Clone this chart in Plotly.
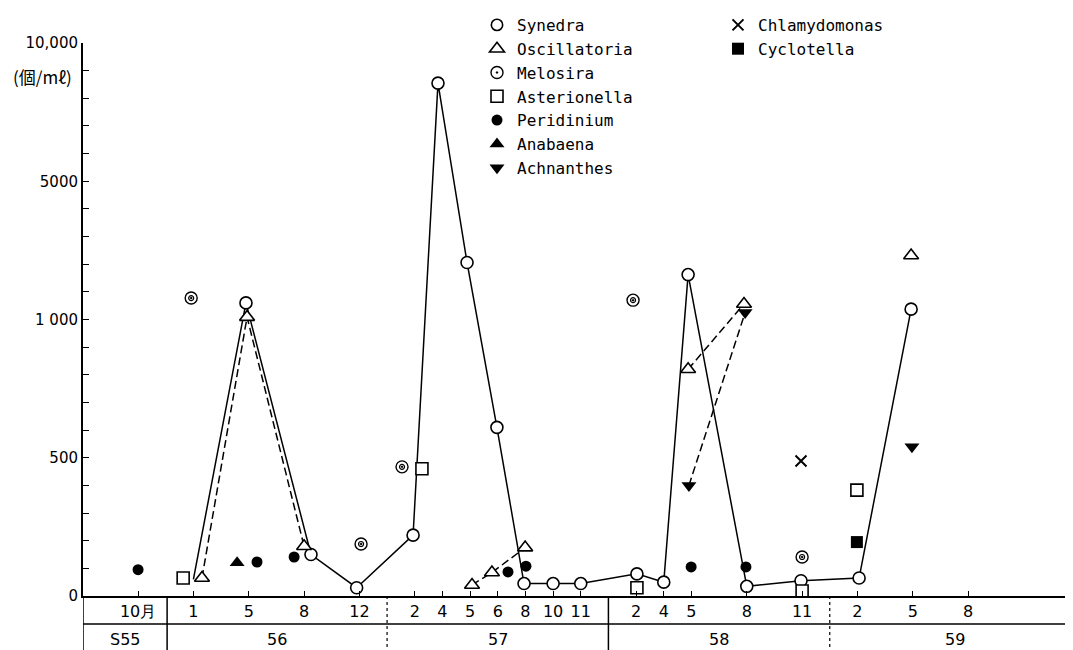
import plotly.graph_objects as go

# ---------------- data ----------------
slot_pos = [0, 2, 4, 6, 8, 10, 11, 12, 13, 14, 15, 16, 18, 19, 20, 22, 24, 26, 28, 30]
month_labels = ["10月", "1", "5", "8", "12", "2", "4", "5", "6", "8", "10", "11",
                "2", "4", "5", "8", "11", "2", "5", "8"]
year_labels = ["S55", "56", "57", "58", "59"]
year_edges = [-1.99, 1.05, 9.0, 17.0, 25.0, 34.08]
year_edge_solid = [True, True, False, True, False]

y_breaks = [0, 500, 1000, 5000, 10000]
y_tick_text = ["0", "500", "1 000", "5000", "10,000"]

syn_x = [2.0, 3.9, 6.25, 7.9, 9.94, 10.84, 11.89, 12.97, 13.95, 15.0, 16.0,
         18.03, 19.0, 19.88, 22.0, 23.96, 26.06, 27.94]
syn_y = [60, 1480, 150, 30, 220, 8550, 2650, 610, 45, 45, 45,
         80, 50, 2300, 35, 55, 65, 1300]

osc_x = [2.31, 3.94, 6.0, 12.07, 12.79, 13.99, 19.88, 21.9, 27.94]
osc_y = [65, 1070, 180, 40, 85, 175, 820, 1450, 2850]
osc_run = [1, 1, 1, 2, 2, 2, 3, 3, 4]

mel_x = [1.92, 8.06, 9.54, 17.89, 24.0]
mel_y = [1620, 188, 467, 1560, 141]

ast_x = [1.63, 10.26, 18.03, 24.0, 25.98]
ast_y = [65, 460, 30, 18, 383]

per_x = [0, 4.3, 5.64, 13.37, 14.02, 19.99, 21.97]
per_y = [95, 123, 141, 87, 108, 105, 105]

ana_x = [3.58]
ana_y = [120]

ach_x = [19.91, 21.94, 27.97]
ach_y = [400, 1200, 540]
ach_run = [1, 1, 2]

chl_x = [23.96]
chl_y = [488]

cyc_x = [25.98]
cyc_y = [195]


# ---------------- helpers ----------------
def scale(v):
    """Broken (piecewise linear) count scale: each interval between breaks = 1 unit."""
    for i in range(len(y_breaks) - 1):
        lo, hi = y_breaks[i], y_breaks[i + 1]
        if v <= hi or i == len(y_breaks) - 2:
            return i + (v - lo) / (hi - lo)


def sc(vals):
    return [scale(v) for v in vals]


def runs_with_gaps(xs, ys, runs):
    ox, oy = [], []
    prev = None
    for x, y, r in zip(xs, ys, runs):
        if prev is not None and r != prev:
            ox.append(None)
            oy.append(None)
        ox.append(x)
        oy.append(scale(y))
        prev = r
    return ox, oy


FONT = "DejaVu Sans"
LFONT = "DejaVu Sans Mono"
BLACK = "black"
fig = go.Figure()

# ---- lines (below markers) ----
fig.add_trace(go.Scatter(x=syn_x, y=sc(syn_y), mode="lines",
                         line=dict(color=BLACK, width=1.5), showlegend=False,
                         hoverinfo="skip"))
lx, ly = runs_with_gaps(osc_x, osc_y, osc_run)
fig.add_trace(go.Scatter(x=lx, y=ly, mode="lines",
                         line=dict(color=BLACK, width=1.5, dash="8px,4px"),
                         showlegend=False, hoverinfo="skip"))
lx, ly = runs_with_gaps(ach_x, ach_y, ach_run)
fig.add_trace(go.Scatter(x=lx, y=ly, mode="lines",
                         line=dict(color=BLACK, width=1.5, dash="8px,4px"),
                         showlegend=False, hoverinfo="skip"))

open_line = dict(color=BLACK, width=1.6)

syn_sizes = [0] + [12] * (len(syn_x) - 1)

series = [
    ("Synedra", syn_x, syn_y, dict(symbol="circle", size=syn_sizes, color="white", opacity=1, line=open_line), "legend"),
    ("Oscillatoria", osc_x, osc_y, dict(symbol="triangle-up", size=13, color="white", opacity=1, line=open_line), "legend"),
    ("Melosira", mel_x, mel_y, dict(symbol="circle-open-dot", size=12, color=BLACK, line=dict(width=1.4)), "legend"),
    ("Asterionella", ast_x, ast_y, dict(symbol="square", size=12, color="white", opacity=1, line=open_line), "legend"),
    ("Peridinium", per_x, per_y, dict(symbol="circle", size=11, color=BLACK, line=dict(width=0)), "legend"),
    ("Anabaena", ana_x, ana_y, dict(symbol="triangle-up", size=13, color=BLACK, line=dict(width=0)), "legend"),
    ("Achnanthes", ach_x, ach_y, dict(symbol="triangle-down", size=13, color=BLACK, line=dict(width=0)), "legend"),
    ("Chlamydomonas", chl_x, chl_y, dict(symbol="x-thin-open", size=11, color=BLACK, line=dict(width=2, color=BLACK)), "legend2"),
    ("Cyclotella", cyc_x, cyc_y, dict(symbol="square", size=12, color=BLACK, line=dict(width=0)), "legend2"),
]
for name, xs, ys, mk, lg in series:
    fig.add_trace(go.Scatter(x=xs, y=sc(ys), mode="markers", name=name,
                             marker=mk, legend=lg, cliponaxis=False))

# inner ring of the Melosira double circle
fig.add_trace(go.Scatter(x=mel_x, y=sc(mel_y), mode="markers", showlegend=False,
                         marker=dict(symbol="circle-open", size=5, color=BLACK,
                                     line=dict(width=1.2)), hoverinfo="skip"))

# ---------------- bottom table (months / years) ----------------
row_y = -0.0506   # line separating month row from year row
bot_y = -0.2
shapes = [dict(type="line", xref="x", yref="paper", x0=year_edges[0], x1=year_edges[-1],
               y0=row_y, y1=row_y, line=dict(color=BLACK, width=1.5))]
for e, solid in zip(year_edges[:-1], year_edge_solid):
    shapes.append(dict(type="line", xref="x", yref="paper", x0=e, x1=e, y0=0, y1=bot_y,
                       line=dict(color=BLACK, width=1.5 if solid else 1.2,
                                 dash="solid" if solid else "dot")))

annotations = []
for i, lab in enumerate(year_labels):
    cx = (year_edges[i] + year_edges[i + 1]) / 2
    annotations.append(dict(x=cx, y=-0.078, xref="x", yref="paper", text=lab,
                            showarrow=False, font=dict(family=FONT, size=16, color=BLACK),
                            yanchor="middle"))
annotations.append(dict(x=-0.041, y=0.94, xref="paper", yref="paper",
                        text="(個/mℓ)", showarrow=False, xanchor="center", yanchor="middle",
                        font=dict(family="Noto Sans CJK JP", size=17, color=BLACK)))

fig.update_layout(
    width=1073, height=650,
    margin=dict(l=75, r=0, t=35, b=62, autoexpand=False),
    paper_bgcolor="white", plot_bgcolor="white",
    font=dict(family=FONT, color=BLACK),
    shapes=shapes, annotations=annotations,
    legend=dict(x=469 / 1073, y=1, xref="container", yref="container",
                xanchor="left", yanchor="top", font=dict(family=LFONT, size=16, color=BLACK),
                bgcolor="rgba(0,0,0,0)", itemclick=False),
    legend2=dict(x=710 / 1073, y=1, xref="container", yref="container",
                 xanchor="left", yanchor="top", font=dict(family=LFONT, size=16, color=BLACK),
                 bgcolor="rgba(0,0,0,0)", itemclick=False),
)

fig.update_xaxes(range=[year_edges[0], year_edges[-1]], tickvals=slot_pos, ticktext=month_labels,
                 showgrid=False, zeroline=False, showline=True, linecolor=BLACK, linewidth=1.5,
                 ticks="inside", ticklen=5, tickcolor=BLACK,
                 tickfont=dict(family=FONT, size=16, color=BLACK))
fig.update_yaxes(range=[0, len(y_breaks) - 1], tickvals=list(range(len(y_breaks))),
                 ticktext=y_tick_text, showgrid=False, zeroline=False, showline=True,
                 linecolor=BLACK, linewidth=2, ticks="inside", ticklen=6, tickcolor=BLACK,
                 minor=dict(ticks="inside", ticklen=6, dtick=0.2, tick0=0, tickcolor=BLACK),
                 tickfont=dict(family=FONT, size=15, color=BLACK))

fig.write_html("out.html")
